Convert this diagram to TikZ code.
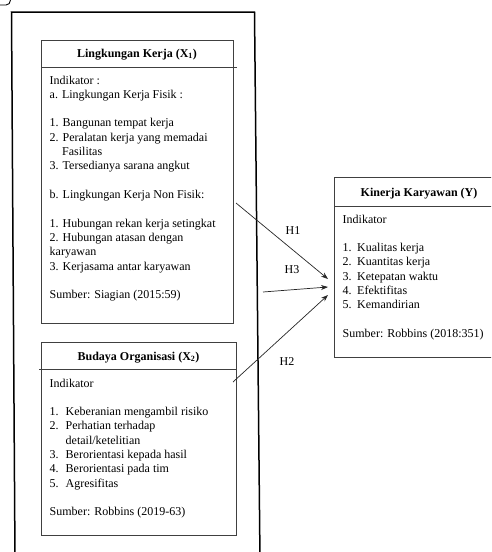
\documentclass[tikz,border=0pt]{standalone}
\usepackage{fontspec}
\setmainfont{Liberation Serif}
\usetikzlibrary{arrows.meta}
\begin{document}
\begin{tikzpicture}[x=1pt,y=-1pt,
  every node/.style={font=\fontsize{12}{14.3}\selectfont},
  boxline/.style={draw=black!75, line width=0.8pt},
  frame/.style={draw=black, line width=1.5pt},
  txt/.style={anchor=base west, inner sep=0pt},
  ttl/.style={anchor=base, inner sep=0pt, font=\fontsize{12}{14.3}\selectfont\bfseries},
  lbl/.style={inner sep=0pt, anchor=center},
  conn/.style={draw=black!85, line width=0.7pt, -{Stealth[length=7pt,width=5pt]}}]
\useasboundingbox (0,0) rectangle (491,552);
\clip (0,0) rectangle (491,552);
% outer frame and corner hook
\draw[frame] (15,560) -- (11.5,12) -- (254.5,12) -- (260,560);
\draw[line width=0.9pt] (0,5) -- (6,5) .. controls (9,5) and (10,3) .. (10.5,0);
% box 1
\node[boxline, anchor=north west, inner sep=0pt, minimum width=192pt, minimum height=283pt] (bx1) at (41,40) {};
\draw[boxline] (41,67) -- (237,67);
\node[ttl] (t1) at (137,57) {Lingkungan Kerja (X\textsubscript{1})};
\foreach \n/\t [count=\i] in {0/{Indikator :},1/{a. Lingkungan Kerja Fisik :},3/{1. Bangunan tempat kerja},4/{2. Peralatan kerja yang memadai},5/{\hspace*{12.5pt}Fasilitas},6/{3. Tersedianya sarana angkut},8/{b. Lingkungan Kerja Non Fisik:},10/{1. Hubungan rekan kerja setingkat},11/{2. Hubungan atasan dengan},12/{karyawan},13/{3. Kerjasama antar karyawan},15/{Sumber: Siagian (2015:59)}}
  \node[txt] (a\i) at (49.5,{84+14.33*\n}) {\t};
% box 2
\node[boxline, anchor=north west, inner sep=0pt, minimum width=195pt, minimum height=193pt] (bx2) at (41,342) {};
\draw[boxline] (39,369) -- (236,369);
\node[ttl] (t2) at (138.5,360) {Budaya Organisasi (X\textsubscript{2})};
\foreach \n/\t [count=\i] in {0/{Indikator},2/{\makebox[16pt][l]{1.}Keberanian mengambil risiko},3/{\makebox[16pt][l]{2.}Perhatian terhadap},4/{\hspace*{16pt}detail/ketelitian},5/{\makebox[16pt][l]{3.}Berorientasi kepada hasil},6/{\makebox[16pt][l]{4.}Berorientasi pada tim},7/{\makebox[16pt][l]{5.}Agresifitas},9/{Sumber: Robbins (2019-63)}}
  \node[txt] (b\i) at (49.5,{387+14.33*\n}) {\t};
% box Y
\node[boxline, anchor=north west, inner sep=0pt, minimum width=180pt, minimum height=180pt] (bxy) at (334,177) {};
\draw[boxline] (334,206) -- (520,206);
\node[ttl] (ty) at (419,196) {Kinerja Karyawan (Y)};
\foreach \n/\t [count=\i] in {0/{Indikator},2/{\makebox[14.5pt][l]{1.}Kualitas kerja},3/{\makebox[14.5pt][l]{2.}Kuantitas kerja},4/{\makebox[14.5pt][l]{3.}Ketepatan waktu},5/{\makebox[14.5pt][l]{4.}Efektifitas},6/{\makebox[14.5pt][l]{5.}Kemandirian},8/{Sumber: Robbins (2018:351)}}
  \node[txt] (y\i) at (342.5,{223+14.33*\n}) {\t};
% connectors
\coordinate (h1s) at (236,203);
\coordinate (h1e) at (328,279);
\coordinate (h3s) at (263,292);
\coordinate (h3e) at (328,287);
\coordinate (h2s) at (233,382);
\coordinate (h2e) at (328,295);
\draw[conn] (h1s) -- (h1e);
\draw[conn] (h3s) -- (h3e);
\draw[conn] (h2s) -- (h2e);
\node[lbl] (l1) at (293,231) {H1};
\node[lbl] (l3) at (292,270) {H3};
\node[lbl] (l2) at (287,362) {H2};
\end{tikzpicture}
\end{document}
